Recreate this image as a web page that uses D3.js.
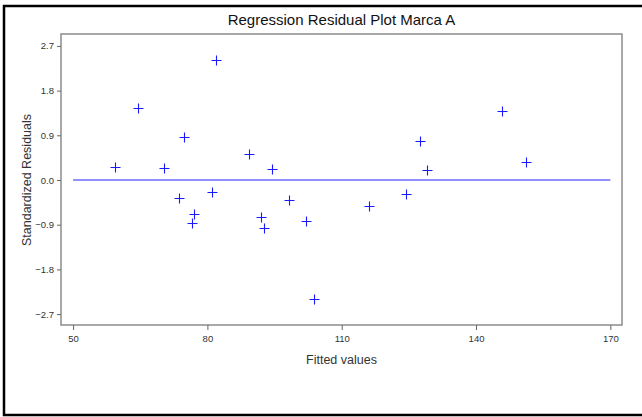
<!DOCTYPE html>
<html>
<head>
<meta charset="utf-8">
<script src="https://cdn.jsdelivr.net/npm/d3@7"></script>
<style>
  body { margin: 0; background: #fff; }
  svg { display: block; font-family: "Liberation Sans", Arial, sans-serif; }
</style>
</head>
<body>
<div id="chart"></div>
<script>
// fitted values (x) and standardized residuals (y)
const fittedValues = [59.3, 64.4, 70.2, 73.7, 74.7, 76.5, 76.9, 81.1, 81.9, 89.4, 92.0,
                      92.6, 94.5, 98.2, 102.1, 103.9, 116.0, 124.3, 127.5, 129.1, 145.7, 151.1];
const stdResiduals = [0.26, 1.45, 0.24, -0.36, 0.86, -0.86, -0.68, -0.24, 2.42, 0.52, -0.75,
                      -0.96, 0.23, -0.41, -0.83, -2.39, -0.52, -0.28, 0.79, 0.20, 1.39, 0.36];
const xTicks = [50, 80, 110, 140, 170];
const yTicks = [2.7, 1.8, 0.9, 0.0, -0.9, -1.8, -2.7];
const refLine = [50, 170];

const width = 642, height = 417;
const margin = {top: 34, right: 20, bottom: 92, left: 61};

const svg = d3.select("#chart").append("svg")
    .attr("width", width)
    .attr("height", height);

// outer frame
svg.append("rect")
    .attr("x", 4).attr("y", 6)
    .attr("width", width + 10).attr("height", 409)
    .attr("fill", "none")
    .attr("stroke", "#000")
    .attr("stroke-width", 2.5);

var x = d3.scaleLinear()
    .domain([47.3, 172.6])
    .range([margin.left, width - margin.right]);
var y = d3.scaleLinear()
    .domain([-2.92, 2.94])
    .range([height - margin.bottom, margin.top]);

// plot frame
svg.append("rect")
    .attr("x", margin.left).attr("y", margin.top)
    .attr("width", width - margin.left - margin.right)
    .attr("height", height - margin.top - margin.bottom)
    .attr("fill", "none")
    .attr("stroke", "#8c8c8c")
    .attr("stroke-width", 1.5);

const xAxis = svg.append("g")
    .attr("transform", "translate(0," + (height - margin.bottom) + ")")
    .call(d3.axisBottom(x).tickValues(xTicks).tickSize(5).tickPadding(5).tickFormat(d3.format("d")));
const yAxis = svg.append("g")
    .attr("transform", "translate(" + margin.left + ",0)")
    .call(d3.axisLeft(y).tickValues(yTicks).tickSize(4).tickPadding(3).tickFormat(d3.format(".1f")));

[xAxis, yAxis].forEach(function (g) {
    g.select(".domain").remove();
    g.selectAll(".tick line").attr("stroke", "#666");
    g.selectAll(".tick text")
        .attr("fill", "#333")
        .style("font-family", "'Liberation Sans Narrow', 'Liberation Sans', Arial, sans-serif")
        .style("font-size", "9.5px");
});

// zero reference line
svg.append("line")
    .attr("x1", x(refLine[0])).attr("x2", x(refLine[1]))
    .attr("y1", y(0)).attr("y2", y(0))
    .attr("stroke", "#6b6bff")
    .attr("stroke-width", 1.5);

// plus markers
const pts = fittedValues.map((v, i) => ({x: v, y: stdResiduals[i]}));
const s = 5;
svg.append("g").selectAll("path")
    .data(pts)
    .enter().append("path")
    .attr("d", d => {
        const px = Math.round(x(d.x)) + 0.5, py = Math.round(y(d.y)) + 0.5;
        return "M" + (px - s) + "," + py + "H" + (px + s) + "M" + px + "," + (py - s) + "V" + (py + s);
    })
    .attr("stroke", "#1a1aff")
    .attr("stroke-width", 1.1)
    .attr("fill", "none");

// titles
svg.append("text")
    .attr("x", (margin.left + width - margin.right) / 2)
    .attr("y", 25)
    .attr("text-anchor", "middle")
    .style("font-size", "15px")
    .attr("fill", "#111")
    .text("Regression Residual Plot Marca A");

svg.append("text")
    .attr("x", (margin.left + width - margin.right) / 2)
    .attr("y", 364)
    .attr("text-anchor", "middle")
    .style("font-size", "12.5px")
    .attr("fill", "#333")
    .text("Fitted values");

svg.append("text")
    .attr("transform", "translate(31," + y(0) + ") rotate(-90)")
    .attr("text-anchor", "middle")
    .style("font-size", "12.5px")
    .attr("fill", "#333")
    .text("Standardized Residuals");
</script>
</body>
</html>
